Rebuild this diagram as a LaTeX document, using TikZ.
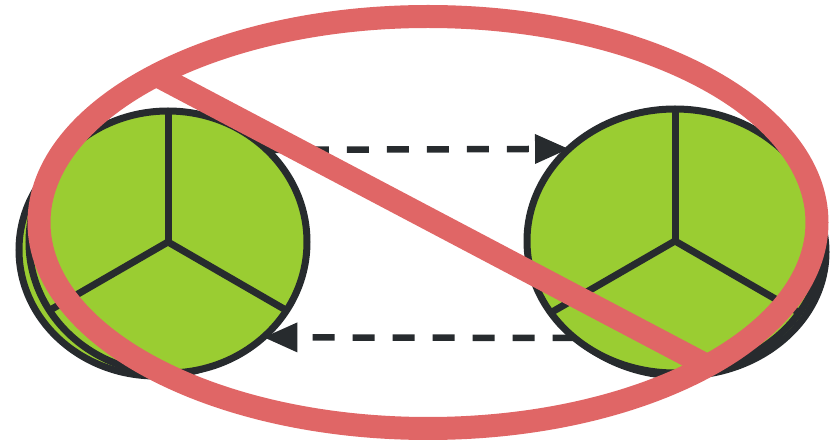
\documentclass[tikz,border=0pt]{standalone}
\usetikzlibrary{shapes.geometric, arrows.meta, positioning}
\definecolor{wheelgreen}{HTML}{9ACD32}
\definecolor{inkdark}{HTML}{272B2E}
\definecolor{banred}{HTML}{E06666}

\begin{document}
\begin{tikzpicture}[
        x=1pt, y=-1pt,
        wheel/.style={draw=inkdark, fill=wheelgreen, ellipse, line width=7pt, inner sep=0pt, outer sep=0pt},
        spoke/.style={draw=inkdark, line width=7pt},
        arrow/.style={-{Triangle[length=34pt, width=28pt]}, draw=inkdark, line width=6.5pt, dash pattern=on 22pt off 18pt},
        ban/.style={draw=banred, line width=23pt}
    ]
        \useasboundingbox (0,0) rectangle (836,443);

        % Nodes
        \node[wheel, minimum width=274pt, minimum height=252pt] (lback) at (156,250) {};
        \node[wheel, minimum width=278pt, minimum height=262pt] (lwheel) at (168,242) {};
        \node[wheel, minimum width=290pt, minimum height=248pt] (rback) at (681,252) {};
        \node[wheel, minimum width=296pt, minimum height=264pt] (rwheel) at (675,241) {};

        % Spokes
        \foreach \w in {lwheel, rwheel}
            \foreach \a in {90, 210, 330}
                \draw[spoke] (\w.center) -- (\w.\a);

        % Arrows
        \draw[arrow] (lwheel.43) -- (rwheel.139.5);
        \draw[arrow] (rwheel.224) -- (lwheel.-45);

        % Ban sign
        \node[ellipse, ban, inner sep=0pt, minimum width=778pt, minimum height=412pt] (ring) at (428,222.5) {};
        \coordinate (slashA) at (155,74.5);
        \coordinate (slashB) at (705,364.5);
        \draw[ban] (slashA) -- (slashB);
    \end{tikzpicture}
\end{document}
